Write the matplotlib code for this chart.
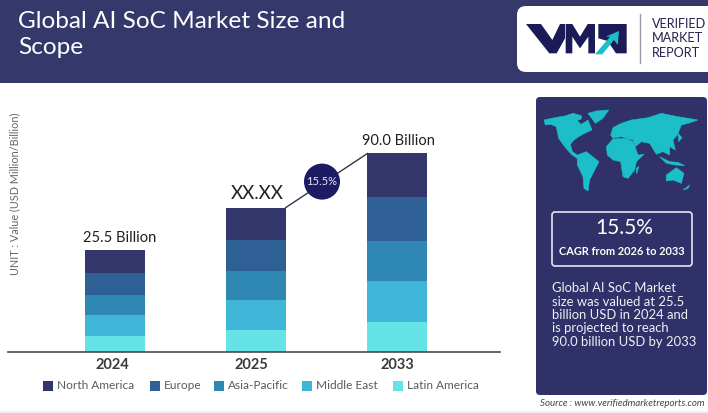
import matplotlib
matplotlib.use("Agg")
import matplotlib.pyplot as plt
import numpy as np
from matplotlib.patches import FancyBboxPatch, Circle, Polygon, Rectangle

plt.rcParams["font.family"] = ["Lato", "DejaVu Sans"]

# Chart values (bar segments, bottom to top, in units of the drawn chart)
years = ["2024", "2025", "2033"]
regions = ["Latin America", "Middle East", "Asia-Pacific", "Europe", "North America"]
latin_america = [7.1, 10.1, 13.8]
middle_east = [9.5, 13.3, 18.5]
asia_pacific = [9.4, 13.3, 18.3]
europe = [10.0, 14.4, 19.7]
north_america = [10.3, 14.5, 19.9]
bar_labels = ["25.5 Billion", "XX.XX", "90.0 Billion"]

navy = "#35386a"
panel = "#2f3168"
teal = "#1cbfc8"
colors = ["#66e3e6", "#3fb6d7", "#2f87b4", "#2e6096", "#33366b"]

fig = plt.figure(figsize=(7.08, 4.13), dpi=100, facecolor="white")

# Overlay in pixel coordinates for header, panel and legend
bg = fig.add_axes([0, 0, 1, 1])
bg.set_xlim(0, 708)
bg.set_ylim(413, 0)
bg.axis("off")

bg.add_patch(Rectangle((0, 0), 708, 83, color=navy, lw=0))
bg.add_patch(Rectangle((0, 411), 708, 2, color="#f0f0f2", lw=0))
bg.text(18, 22, "Global AI SoC Market Size and", color="white", fontsize=17.6, va="center")
bg.text(18, 48, "Scope", color="white", fontsize=17.6, va="center")

# Logo
bg.add_patch(FancyBboxPatch((517, 6), 210, 66, boxstyle="round,pad=0,rounding_size=9",
                            fc="white", ec="none"))
logo_dark = "#1d1a58"
logo_shapes = [
    ([(33, 57), (78, 57), (112, 105), (135, 57), (150, 57), (150, 100), (125, 145), (103, 145)], logo_dark),
    ([(152, 57), (172, 57), (195, 95), (218, 57), (240, 57), (240, 145), (220, 145), (220, 95),
      (195, 130), (172, 95), (172, 145), (152, 145)], logo_dark),
    ([(250, 57), (335, 57), (335, 145), (303, 145), (278, 108), (250, 100)], logo_dark),
    ([(240, 148), (285, 95), (272, 95), (312, 78), (308, 120), (297, 105), (262, 148)], teal),
]
for shape, col in logo_shapes:
    bg.add_patch(Polygon([(515 + px / 3, 5 + py / 3) for px, py in shape], fc=col, ec="none"))
bg.plot([640, 640], [14, 63], color="#9a9aa5", lw=1)
for y, line in zip([24, 38.5, 53], ["VERIFIED", "MARKET", "REPORT"]):
    bg.text(652, y, line, color="#23234f", fontsize=9.1, va="center")

# Side panel
bg.add_patch(FancyBboxPatch((536, 97), 171, 298, boxstyle="round,pad=0,rounding_size=4",
                            fc=panel, ec="none"))

# Rough world map, traced in zoomed panel coordinates
continents = [
    [(18, 45), (50, 38), (80, 33), (105, 25), (130, 32), (130, 42), (118, 46), (128, 58), (140, 52), (150, 45),
     (162, 75), (140, 85), (122, 95), (108, 105), (97, 118), (103, 140), (125, 155), (120, 162), (100, 148),
     (80, 125), (62, 100), (55, 65), (38, 58), (22, 60)],
    [(150, 25), (175, 18), (212, 15), (195, 40), (172, 55), (160, 38)],
    [(118, 150), (145, 140), (183, 170), (165, 205), (155, 225), (150, 258), (138, 250), (135, 215), (118, 180)],
    [(218, 90), (225, 68), (250, 55), (280, 45), (330, 38), (370, 25), (420, 35), (480, 45), (450, 55), (430, 60),
     (418, 90), (405, 105), (412, 135), (395, 125), (395, 150), (375, 140), (355, 148), (335, 115), (310, 110),
     (292, 125), (285, 105), (250, 95), (225, 100)],
    [(205, 125), (225, 102), (265, 100), (285, 110), (300, 150), (318, 148), (295, 170), (290, 195), (270, 220),
     (255, 215), (248, 170), (225, 165), (208, 150)],
    [(385, 210), (415, 188), (438, 205), (430, 235), (405, 225), (385, 228)],
    [(365, 155), (395, 170), (420, 172), (440, 182), (412, 180), (385, 175)],
    [(295, 190), (303, 184), (296, 206)],
    [(435, 255), (455, 240), (450, 250)],
    [(420, 85), (432, 98), (422, 110)],
]
for shape in continents:
    bg.add_patch(Polygon([(538 + px / 3, 105 + py / 3) for px, py in shape], fc=teal, ec=teal, lw=0.4))

bg.add_patch(FancyBboxPatch((552, 212), 140, 54, boxstyle="round,pad=0,rounding_size=3",
                            fc="none", ec="#e6e6f0", lw=1.2))
bg.text(624.5, 228, "15.5%", color="white", fontsize=15, ha="center", va="center")
bg.text(621.5, 251.5, "CAGR from 2026 to 2033", color="white", fontsize=7.9,
        fontweight="bold", ha="center", va="center")
panel_lines = ["Global AI SoC Market", "size was valued at 25.5", "billion USD in 2024 and",
               "is projected to reach", "90.0 billion USD by 2033"]
for i, line in enumerate(panel_lines):
    bg.text(552, 288 + i * 13.5, line, color="#f0f0f5", fontsize=9.4, va="center")
bg.text(704, 403, "Source : www.verifiedmarketreports.com", color="#444444", fontsize=7.0,
        style="italic", ha="right", va="center")

# Stacked bars
ax = fig.add_axes([8 / 708, (413 - 352) / 413, 492 / 708, 252 / 413])
ax.patch.set_alpha(0)
x = np.arange(len(years))
series = [latin_america, middle_east, asia_pacific, europe, north_america]
bottom = np.zeros(len(years))
bar_w = 0.42
for vals, col, name in zip(series, colors, regions):
    ax.bar(x, vals, bar_w, bottom=bottom, color=col, label=name)
    bottom += np.array(vals)

ax.set_xlim(-0.759, 2.73)
ax.set_ylim(0, 114.5)
for side in ["top", "right", "left"]:
    ax.spines[side].set_visible(False)
ax.spines["bottom"].set_color("#444a55")
ax.spines["bottom"].set_linewidth(1.2)
ax.set_yticks([])
ax.set_xticks(x + np.array([-0.02, -0.03, 0.0]), years, fontsize=10.5, color="#3a3a3a", fontweight="bold")
ax.tick_params(axis="x", length=0, pad=4)

# Growth connector between the 2025 and 2033 bars
ax.plot([1 + bar_w / 2, 2 - bar_w / 2], [bottom[1], bottom[2]], color="#33344f", lw=1)
label_shift = [0.03, 0.012, 0.01]
for i, label in enumerate(bar_labels):
    fs = 13.5 if label == "XX.XX" else 10.5
    ax.text(i + label_shift[i], bottom[i] + 2.4, label, ha="center", va="bottom", fontsize=fs, color="#1f1f1f")

bg2 = fig.add_axes([0, 0, 1, 1])
bg2.set_xlim(0, 708)
bg2.set_ylim(413, 0)
bg2.axis("off")
bg2.add_patch(Circle((322, 181.6), 18, fc="#1c1b63", ec="none"))
bg2.text(322, 181.6, "15.5%", color="#e8e8f8", fontsize=8, ha="center", va="center")
bg2.text(15, 194, "UNIT : Value (USD Million/Billion)", color="#666666", fontsize=7.8,
         rotation=90, ha="center", va="center")

# Legend with the reference's uneven spacing
legend_names = regions[::-1]
legend_cols = colors[::-1]
legend_x = [43, 150, 214, 302, 393]
for lx, name, col in zip(legend_x, legend_names, legend_cols):
    bg2.add_patch(Rectangle((lx, 381), 9.5, 9.5, fc=col, ec="none"))
    bg2.text(lx + 14, 385.5, name, color="#5a5a62", fontsize=8.6, va="center")

fig.savefig("out.png", dpi=100)
